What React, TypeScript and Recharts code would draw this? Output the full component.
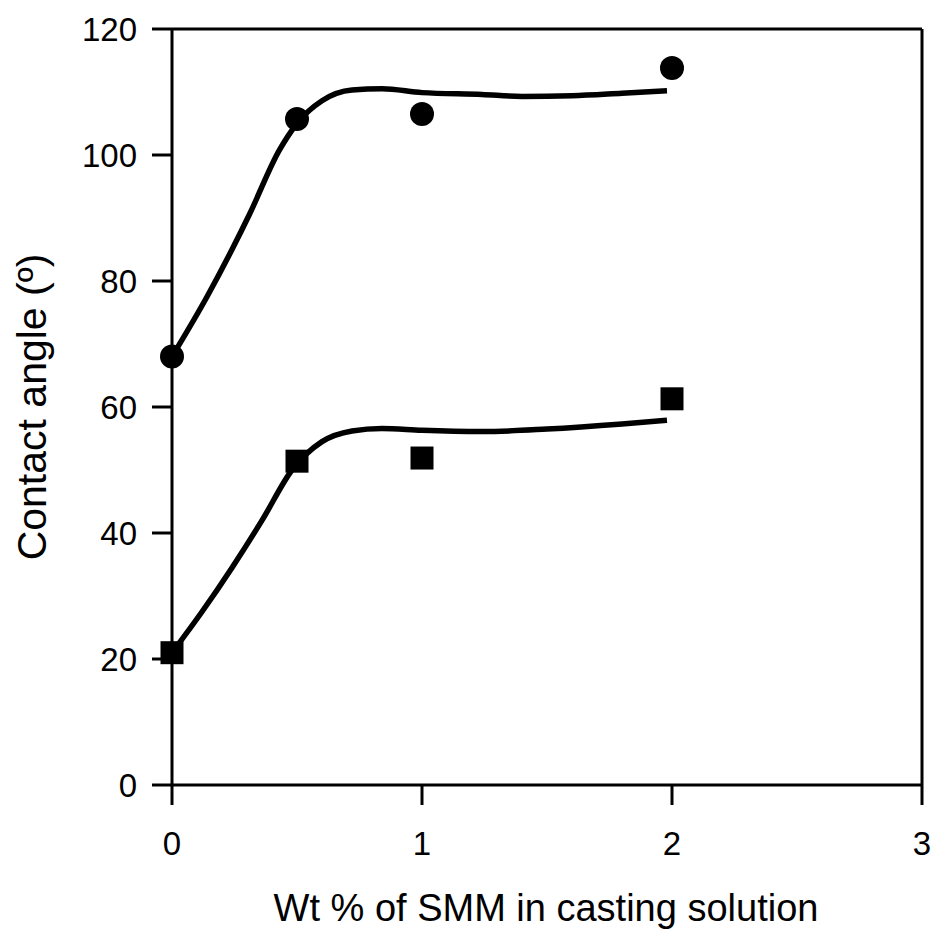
import { ComposedChart, Line, Scatter, XAxis, YAxis, ReferenceLine } from "recharts";

const xTicks = [0, 1, 2, 3];
const yTicks = [0, 20, 40, 60, 80, 100, 120];

// measured points
const circleX = [0, 0.5, 1, 2];
const circleY = [68, 105.7, 106.5, 113.8];
const squareX = [0, 0.5, 1, 2];
const squareY = [21, 51.4, 51.9, 61.3];

// fitted curves
const upperFitX = [0, 0.14, 0.24, 0.31, 0.43, 0.5, 0.6, 0.72, 0.84, 1.0, 1.24, 1.4, 1.6, 1.8, 1.98];
const upperFitY = [68, 77.5, 85, 90.6, 100.8, 105, 108.6, 110.3, 110.5, 109.9, 109.6, 109.3, 109.4, 109.8, 110.2];
const lowerFitX = [0, 0.12, 0.24, 0.36, 0.48, 0.6, 0.72, 0.84, 1.0, 1.24, 1.5, 1.8, 1.98];
const lowerFitY = [21, 27.5, 34.5, 42, 50, 54.5, 56.2, 56.6, 56.3, 56.1, 56.5, 57.3, 57.9];

const zip = (xs: number[], ys: number[]) => xs.map((x, i) => ({ x, y: ys[i] }));

const circles = zip(circleX, circleY);
const squares = zip(squareX, squareY);
const upperFit = zip(upperFitX, upperFitY);
const lowerFit = zip(lowerFitX, lowerFitY);

const font = "Arial, 'Liberation Sans', sans-serif";

const Dot = (p: any) => <circle cx={p.cx} cy={p.cy} r={12} fill="#000" />;
const Square = (p: any) => <rect x={p.cx - 11.5} y={p.cy - 11.5} width={23} height={23} fill="#000" />;

const XTitle = () => (
  <text x={546} y={921} textAnchor="middle" fill="#000" fontSize={38} fontFamily={font}>
    Wt % of SMM in casting solution
  </text>
);

const YTitle = () => (
  <text x={46} y={407} transform="rotate(-90 46 407)" textAnchor="middle" fill="#000" fontSize={41} fontFamily={font}>
    Contact angle (º)
  </text>
);

export default function App() {
  return (
    <div style={{ width: 935, height: 939, background: "#fff" }}>
      <style>{`body{margin:0;background:#fff}`}</style>
      <ComposedChart width={935} height={939} margin={{ top: 29, right: 13, bottom: 0, left: 0 }}>
        <XAxis
          type="number"
          dataKey="x"
          domain={[0, 3]}
          ticks={xTicks}
          height={154}
          tickSize={20}
          tickMargin={27}
          stroke="#000"
          strokeWidth={3}
          tick={{ fill: "#000", fontSize: 33, fontFamily: font }}
          label={{ content: XTitle }}
        />
        <YAxis
          type="number"
          dataKey="y"
          domain={[0, 120]}
          ticks={yTicks}
          width={172}
          tickSize={20}
          tickMargin={15}
          stroke="#000"
          strokeWidth={3}
          tick={{ fill: "#000", fontSize: 33, fontFamily: font }}
          label={{ content: YTitle }}
        />
        <ReferenceLine y={120} stroke="#000" strokeWidth={3} />
        <ReferenceLine x={3} stroke="#000" strokeWidth={3} />
        <Line data={upperFit} dataKey="y" type="monotone" stroke="#000" strokeWidth={5.5} dot={false} isAnimationActive={false} />
        <Line data={lowerFit} dataKey="y" type="monotone" stroke="#000" strokeWidth={5.5} dot={false} isAnimationActive={false} />
        <Scatter data={circles} dataKey="y" shape={Dot} isAnimationActive={false} />
        <Scatter data={squares} dataKey="y" shape={Square} isAnimationActive={false} />
      </ComposedChart>
    </div>
  );
}
